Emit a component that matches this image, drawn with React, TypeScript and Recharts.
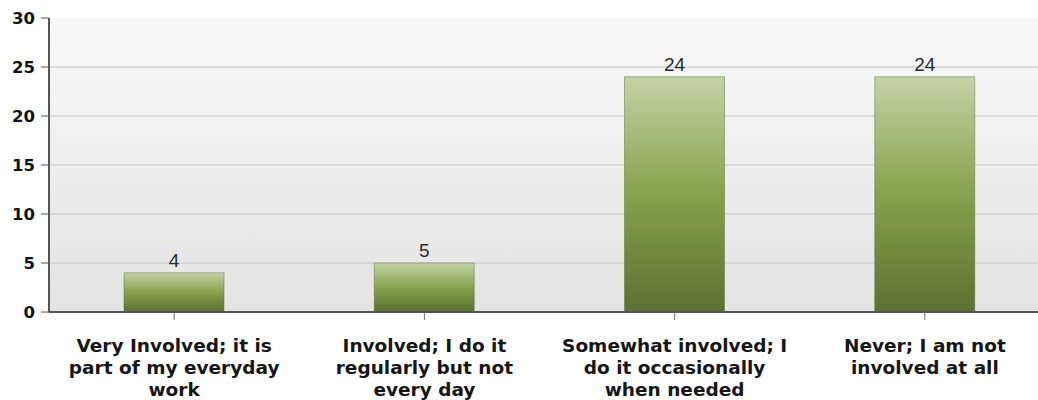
import React from 'react';
import { BarChart, Bar, XAxis, YAxis, CartesianGrid, LabelList } from 'recharts';

const categories = [
  'Very Involved; it is part of my everyday work',
  'Involved; I do it regularly but not every day',
  'Somewhat involved; I do it occasionally when needed',
  'Never; I am not involved at all',
];

// how each category label wraps in the picture
const categoryLines = [
  ['Very Involved; it is', 'part of my everyday', 'work'],
  ['Involved; I do it', 'regularly but not', 'every day'],
  ['Somewhat involved; I', 'do it occasionally', 'when needed'],
  ['Never; I am not', 'involved at all'],
];

const counts = [4, 5, 24, 24];
const yTicks = [0, 5, 10, 15, 20, 25, 30];
const gridValues = [5, 10, 15, 20, 25];

const data = categories.map((name, i) => ({ name, count: counts[i] }));

const CategoryTick = (props: any) => {
  const { x, y, payload } = props;
  const idx = categories.indexOf(payload.value);
  const lines = idx >= 0 ? categoryLines[idx] : [String(payload.value)];
  return (
    <g transform={`translate(${x},${y})`}>
      {lines.map((line, i) => (
        <text
          key={i}
          x={0}
          y={30 + i * 22}
          textAnchor="middle"
          fill="#161616"
          fontFamily="'DejaVu Sans', Tahoma, Verdana, sans-serif"
          fontWeight="bold"
          fontSize={18.5}
        >
          {line}
        </text>
      ))}
    </g>
  );
};

// grid only at the inner ticks, not along the top edge
const gridRows = (props: any) => {
  const { yAxis, offset } = props;
  if (yAxis && typeof yAxis.scale === 'function') {
    return gridValues.map((v) => yAxis.scale(v));
  }
  return gridValues.map((v) => offset.top + offset.height * (1 - v / 30));
};

export default function App() {
  return (
    <div
      style={{
        position: 'fixed',
        left: 0,
        top: 0,
        width: 1038,
        height: 400,
        overflow: 'hidden',
        background: '#fff',
      }}
    >
      <BarChart width={1050} height={400} data={data} margin={{ top: 18, right: 0, left: 0, bottom: 0 }}>
        <defs>
          <linearGradient id="bgFill" x1="0" y1="0" x2="0" y2="1">
            <stop offset="0%" stopColor="#f9f9f9" />
            <stop offset="100%" stopColor="#e3e3e3" />
          </linearGradient>
          <linearGradient id="barFill" x1="0" y1="0" x2="0" y2="1">
            <stop offset="0%" stopColor="#c3d3a6" />
            <stop offset="50%" stopColor="#86a24b" />
            <stop offset="100%" stopColor="#5b7131" />
          </linearGradient>
        </defs>
        <CartesianGrid
          vertical={false}
          stroke="#d2d2d2"
          strokeWidth={1.5}
          fill="url(#bgFill)"
          horizontalCoordinatesGenerator={gridRows}
        />
        <XAxis
          dataKey="name"
          height={88}
          tick={<CategoryTick />}
          tickSize={8}
          tickLine={{ stroke: '#6a6a6a' }}
          axisLine={{ stroke: '#555', strokeWidth: 2 }}
          interval={0}
        />
        <YAxis
          width={49}
          domain={[0, 30]}
          ticks={yTicks}
          tickSize={8}
          tickMargin={6}
          tickLine={{ stroke: '#555' }}
          axisLine={{ stroke: '#555', strokeWidth: 2 }}
          tick={{ fill: '#111', fontSize: 16.5, fontWeight: 'bold', fontFamily: "'DejaVu Sans', Tahoma, sans-serif" }}
        />
        <Bar
          dataKey="count"
          fill="url(#barFill)"
          stroke="#556a2e"
          strokeOpacity={0.45}
          barSize={100}
          isAnimationActive={false}
        >
          <LabelList
            dataKey="count"
            position="top"
            offset={6}
            fill="#2a2a2a"
            fontSize={19}
            fontFamily="'Liberation Sans', Arial, sans-serif"
          />
        </Bar>
      </BarChart>
    </div>
  );
}
